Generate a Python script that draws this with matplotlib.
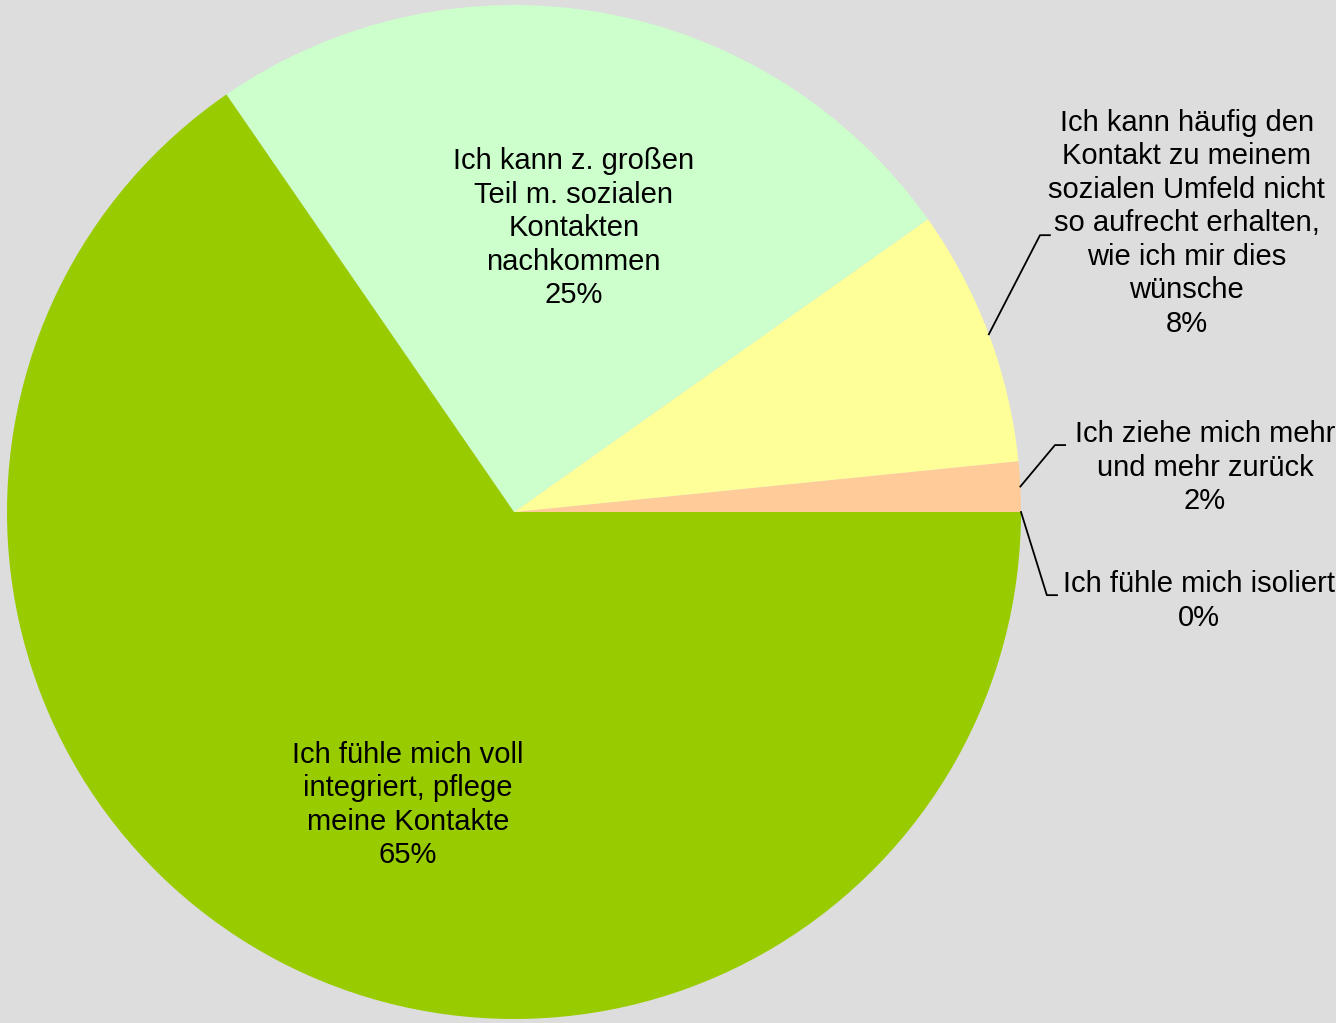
import numpy as np
import matplotlib.pyplot as plt

plt.rcParams['font.family'] = ['Liberation Sans', 'DejaVu Sans']

# data (percent), counterclockwise from 3 o'clock
labels = [
    'Ich fühle mich isoliert',
    'Ich ziehe mich mehr\nund mehr zurück',
    'Ich kann häufig den\nKontakt zu meinem\nsozialen Umfeld nicht\nso aufrecht erhalten,\nwie ich mir dies\nwünsche',
    'Ich kann z. großen\nTeil m. sozialen\nKontakten\nnachkommen',
    'Ich fühle mich voll\nintegriert, pflege\nmeine Kontakte',
]
values = [0.0, 1.6, 8.2, 24.8, 65.4]
colors = ['#FFFFFF', '#FFCC99', '#FFFF99', '#CCFFCC', '#99CC00']

bg = '#DDDDDD'
fig = plt.figure(figsize=(13.36, 10.23), dpi=100, facecolor=bg)
ax = fig.add_axes([0, 0, 1, 1])
ax.set_facecolor(bg)

wedges, _ = ax.pie(values, colors=colors, startangle=0, counterclock=True,
                   radius=1, wedgeprops=dict(linewidth=0))

# map so that the pie sits like the original (center 514,512 px; r=507 px)
scale = 507
ax.set_xlim(-514 / scale, (1336 - 514) / scale)
ax.set_ylim(-(1023 - 512) / scale, 512 / scale)
ax.set_aspect('equal')
ax.axis('off')

fs = 21
ls = 1.25
pct = [f'{round(v)}%' for v in values]

# inside labels
inside = {3: (0.118, 0.560), 4: (-0.209, -0.578)}
for i, (x, y) in inside.items():
    ax.text(x, y, labels[i] + '\n' + pct[i], ha='center', va='center',
            fontsize=fs, linespacing=ls)

# outside labels with leader lines: (elbow, line end, text centre)
outside = {
    2: ((1.0375, 0.546), 1.057, (1.327, 0.570)),
    1: ((1.067, 0.132), 1.087, (1.363, 0.087)),
    0: ((1.051, -0.164), 1.071, (1.351, -0.1755)),
}
for i, (elbow, xend, tpos) in outside.items():
    w = wedges[i]
    mid = np.deg2rad((w.theta1 + w.theta2) / 2)
    x0, y0 = np.cos(mid), np.sin(mid)
    ax.plot([x0, elbow[0], xend], [y0, elbow[1], elbow[1]],
            color='black', lw=1.3, clip_on=False)
    ax.text(tpos[0], tpos[1], labels[i] + '\n' + pct[i], ha='center',
            va='center', fontsize=fs, linespacing=ls)

plt.savefig('out.png', dpi=100, facecolor=bg)
